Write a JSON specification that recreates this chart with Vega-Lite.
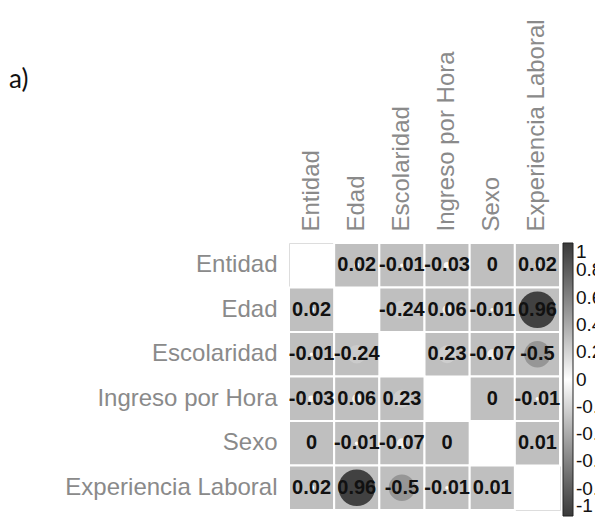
{
  "$schema": "https://vega.github.io/schema/vega-lite/v6.json",
  "autosize": "none",
  "padding": {"left": 289, "top": 243, "right": 35, "bottom": 10},
  "width": 271,
  "height": 267,
  "title": {
    "text": "a)",
    "anchor": "start",
    "frame": "group",
    "font": "Lato",
    "fontSize": 26,
    "fontWeight": "normal",
    "color": "#111111",
    "dx": -280,
    "dy": 78
  },
  "data": {
    "values": [
      {"row": "Entidad", "col": "Edad", "r": 0.02},
      {"row": "Entidad", "col": "Escolaridad", "r": -0.01},
      {"row": "Entidad", "col": "Ingreso por Hora", "r": -0.03},
      {"row": "Entidad", "col": "Sexo", "r": 0},
      {"row": "Entidad", "col": "Experiencia Laboral", "r": 0.02},
      {"row": "Edad", "col": "Entidad", "r": 0.02},
      {"row": "Edad", "col": "Escolaridad", "r": -0.24},
      {"row": "Edad", "col": "Ingreso por Hora", "r": 0.06},
      {"row": "Edad", "col": "Sexo", "r": -0.01},
      {"row": "Edad", "col": "Experiencia Laboral", "r": 0.96},
      {"row": "Escolaridad", "col": "Entidad", "r": -0.01},
      {"row": "Escolaridad", "col": "Edad", "r": -0.24},
      {"row": "Escolaridad", "col": "Ingreso por Hora", "r": 0.23},
      {"row": "Escolaridad", "col": "Sexo", "r": -0.07},
      {"row": "Escolaridad", "col": "Experiencia Laboral", "r": -0.5},
      {"row": "Ingreso por Hora", "col": "Entidad", "r": -0.03},
      {"row": "Ingreso por Hora", "col": "Edad", "r": 0.06},
      {"row": "Ingreso por Hora", "col": "Escolaridad", "r": 0.23},
      {"row": "Ingreso por Hora", "col": "Sexo", "r": 0},
      {"row": "Ingreso por Hora", "col": "Experiencia Laboral", "r": -0.01},
      {"row": "Sexo", "col": "Entidad", "r": 0},
      {"row": "Sexo", "col": "Edad", "r": -0.01},
      {"row": "Sexo", "col": "Escolaridad", "r": -0.07},
      {"row": "Sexo", "col": "Ingreso por Hora", "r": 0},
      {"row": "Sexo", "col": "Experiencia Laboral", "r": 0.01},
      {"row": "Experiencia Laboral", "col": "Entidad", "r": 0.02},
      {"row": "Experiencia Laboral", "col": "Edad", "r": 0.96},
      {"row": "Experiencia Laboral", "col": "Escolaridad", "r": -0.5},
      {"row": "Experiencia Laboral", "col": "Ingreso por Hora", "r": -0.01},
      {"row": "Experiencia Laboral", "col": "Sexo", "r": 0.01}
    ]
  },
  "encoding": {
    "x": {
      "field": "col",
      "type": "nominal",
      "scale": {"domain": ["Entidad", "Edad", "Escolaridad", "Ingreso por Hora", "Sexo", "Experiencia Laboral"], "paddingInner": 0, "paddingOuter": 0},
      "axis": {
        "orient": "top",
        "title": null,
        "labelAngle": -90,
        "labelAlign": "left",
        "labelBaseline": "middle",
        "labelPadding": 12,
        "labelFont": "Arial",
        "labelFontSize": 24,
        "labelColor": "#8a8a8a",
        "labelLimit": 300,
        "ticks": false,
        "domain": false,
        "grid": false
      }
    },
    "y": {
      "field": "row",
      "type": "nominal",
      "scale": {"domain": ["Entidad", "Edad", "Escolaridad", "Ingreso por Hora", "Sexo", "Experiencia Laboral"], "paddingInner": 0, "paddingOuter": 0},
      "axis": {
        "title": null,
        "labelPadding": 12,
        "labelFont": "Arial",
        "labelFontSize": 24,
        "labelColor": "#8a8a8a",
        "labelLimit": 300,
        "ticks": false,
        "domain": false,
        "grid": false
      }
    }
  },
  "layer": [
    {
      "mark": {"type": "rect", "fill": "#bfbfbf", "stroke": "#ffffff", "strokeWidth": 2}
    },
    {
      "mark": {"type": "circle", "opacity": 1},
      "encoding": {
        "size": {
          "field": "r",
          "type": "quantitative",
          "scale": {"type": "linear", "domain": [-1.0001, 0, 1.0001], "range": [1400, 0, 1400]},
          "legend": null
        },
        "color": {
          "field": "r",
          "type": "quantitative",
          "scale": {"domain": [-1, 0, 1], "range": ["#3a3a3a", "#ffffff", "#3a3a3a"]},
          "legend": {
            "title": null,
            "type": "gradient",
            "direction": "vertical",
            "offset": 3,
            "padding": 0,
            "gradientLength": 273,
            "gradientThickness": 10,
            "gradientStrokeColor": "#222222",
            "gradientStrokeWidth": 1,
            "values": [-1, -0.8, -0.6, -0.4, -0.2, 0, 0.2, 0.4, 0.6, 0.8, 1],
            "labelExpr": "'' + datum.value",
            "labelFont": "Arial",
            "labelFontSize": 19,
            "labelColor": "#111111",
            "labelOffset": 3,
            "labelBaseline": "middle",
            "labelOverlap": false
          }
        }
      }
    },
    {
      "mark": {"type": "text", "font": "Arial", "fontSize": 20, "fontWeight": "bold", "color": "#111111"},
      "encoding": {
        "text": {"field": "r", "type": "nominal"}
      }
    }
  ]
}
